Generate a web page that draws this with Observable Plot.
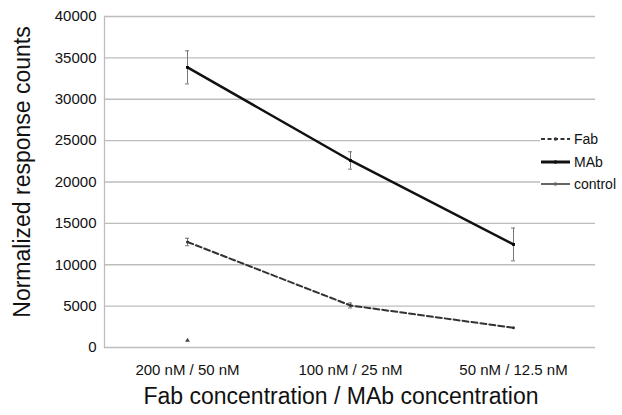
<!DOCTYPE html>
<html>
<head>
<meta charset="utf-8">
<script src="https://cdn.jsdelivr.net/npm/d3@7"></script>
<script src="https://cdn.jsdelivr.net/npm/@observablehq/plot@0.6"></script>
<style>
  body { margin: 0; background: #fff; font-family: "Liberation Sans", Arial, sans-serif; }
  #wrap { position: relative; width: 622px; height: 415px; }
  #legend { position: absolute; left: 540px; top: 128px; width: 82px; background: #fff; font-size: 14px; color: #111; }
  #legend div { display: flex; align-items: center; height: 22.5px; }
  #legend svg { margin-right: 3px; }
</style>
</head>
<body>
<div id="wrap"></div>
<script>
const categories = ["200 nM / 50 nM", "100 nM / 25 nM", "50 nM / 12.5 nM"];
const fabValues = [12750, 5080, 2380];
const fabErrors = [450, 300, 0];
const mabValues = [33850, 22600, 12450];
const mabErrors = [2000, 1050, 1980];
const controlValues = [850, null, null];
const yTicks = [0, 5000, 10000, 15000, 20000, 25000, 30000, 35000, 40000];

const rows = [];
categories.forEach((c, i) => {
  rows.push({series: "Fab", cat: c, v: fabValues[i], e: fabErrors[i]});
  rows.push({series: "MAb", cat: c, v: mabValues[i], e: mabErrors[i]});
  if (controlValues[i] != null) rows.push({series: "control", cat: c, v: controlValues[i], e: 0});
});
const fab = rows.filter(d => d.series === "Fab");
const mab = rows.filter(d => d.series === "MAb");
const ctl = rows.filter(d => d.series === "control");
const errs = rows.filter(d => d.e > 0);

const chart = Plot.plot({
  width: 622,
  height: 415,
  marginLeft: 104,
  marginRight: 27,
  marginTop: 16,
  marginBottom: 68,
  style: {fontFamily: "'Liberation Sans', Arial, sans-serif", background: "#fff", color: "#111"},
  x: {type: "point", domain: categories, padding: 0.5},
  y: {domain: [0, 40000], ticks: yTicks},
  marks: [
    Plot.gridY(yTicks, {stroke: "#bdbdbd", strokeOpacity: 1, strokeWidth: 1.3}),
    Plot.frame({anchor: "left", stroke: "#bdbdbd", strokeWidth: 1.3}),
    Plot.axisY(yTicks, {tickSize: 0, tickPadding: 8, fontSize: 15, tickFormat: d3.format("d"), label: null, fill: "#111"}),
    Plot.axisX({tickSize: 0, tickPadding: 17, fontSize: 15, label: null, fill: "#111"}),
    Plot.ruleX(errs, {x: "cat", y1: d => d.v - d.e, y2: d => d.v + d.e, stroke: "#777", strokeWidth: 1}),
    Plot.ruleY(errs, {x1: "cat", x2: "cat", y: d => d.v - d.e, stroke: "#777", strokeWidth: 1, insetLeft: -2, insetRight: -2}),
    Plot.ruleY(errs, {x1: "cat", x2: "cat", y: d => d.v + d.e, stroke: "#777", strokeWidth: 1, insetLeft: -2, insetRight: -2}),
    Plot.line(fab, {x: "cat", y: "v", stroke: "#333", strokeWidth: 2, strokeDasharray: "6,3"}),
    Plot.line(mab, {x: "cat", y: "v", stroke: "#111", strokeWidth: 2.5}),
    Plot.dot(fab, {x: "cat", y: "v", r: 1.5, fill: "#333", stroke: "none"}),
    Plot.dot(mab, {x: "cat", y: "v", r: 1.6, fill: "#000", symbol: "square", stroke: "none"}),
    Plot.dot(ctl, {x: "cat", y: "v", r: 1.8, fill: "#444", symbol: "triangle", stroke: "none"}),
    Plot.text(["Normalized response counts"], {frameAnchor: "left", rotate: -90, textAnchor: "middle", dx: -82, dy: -10, fontSize: 23, fill: "#111"}),
    Plot.text(["Fab concentration / MAb concentration"], {frameAnchor: "bottom", dy: 56, dx: -9, fontSize: 23, fill: "#111"})
  ]
});
const wrap = document.getElementById("wrap");
wrap.appendChild(chart);

const legendItems = [
  {name: "Fab", color: "#333", width: 2, dash: "4,2.5"},
  {name: "MAb", color: "#111", width: 3, dash: null},
  {name: "control", color: "#666", width: 2, dash: null}
];
const legend = document.createElement("div");
legend.id = "legend";
legendItems.forEach(it => {
  const row = document.createElement("div");
  row.innerHTML = `<svg width="31" height="8"><line x1="1" x2="30" y1="4" y2="4" stroke="${it.color}" stroke-width="${it.width}" ${it.dash ? `stroke-dasharray="${it.dash}"` : ""}/><circle cx="15.5" cy="4" r="1.8" fill="${it.color}"/></svg><span>${it.name}</span>`;
  legend.appendChild(row);
});
wrap.appendChild(legend);
</script>
</body>
</html>
